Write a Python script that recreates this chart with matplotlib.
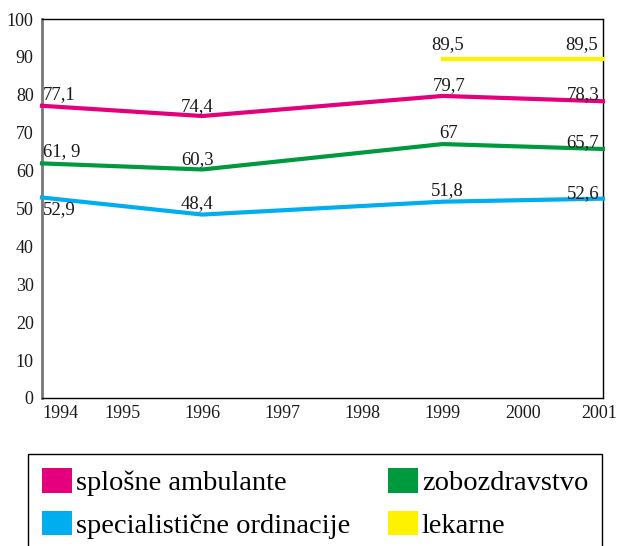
import matplotlib
matplotlib.use('Agg')
import matplotlib.pyplot as plt
from matplotlib.patches import Patch
from matplotlib.transforms import offset_copy

plt.rcParams.update({
    'font.family': ['Liberation Serif', 'DejaVu Serif'],
    'font.size': 12,
})

# ─── data ────────────────────────────────────────────────────────
years = [1994, 1996, 1999, 2001]
splosne = [77.1, 74.4, 79.7, 78.3]
zobozdr = [61.9, 60.3, 67.0, 65.7]
special = [52.9, 48.4, 51.8, 52.6]
lek_years = [1999, 2001]
lekarne = [89.5, 89.5]

splosne_lbl = ['77,1', '74,4', '79,7', '78,3']
zobozdr_lbl = ['61, 9', '60,3', '67', '65,7']
special_lbl = ['52,9', '48,4', '51,8', '52,6']
lekarne_lbl = ['89,5', '89,5']

names = ['splošne ambulante', 'specialistične ordinacije', 'zobozdravstvo', 'lekarne']
xticks = list(range(1994, 2002))
yticks = list(range(0, 101, 10))

PINK = '#E4007C'
GREEN = '#009A3E'
BLUE = '#00AEEF'
YELLOW = '#FFF200'

fig = plt.figure(figsize=(6.18, 5.46), dpi=100)
ax = fig.add_axes([42 / 618, 1 - 398 / 546, 561 / 618, 379 / 546])

# label placement: (dx, dy, ha, va) in pixels
pos_std = [(1, 3, 'left', 'bottom'), (-5, 1, 'center', 'bottom'),
           (6, 2, 'center', 'bottom'), (-4, -2, 'right', 'bottom')]
pos_blue = [(1, -4, 'left', 'top'), (-5, 2, 'center', 'bottom'),
            (5, 3, 'center', 'bottom'), (-4, -3, 'right', 'bottom')]
pos_yel = [(5, 6, 'center', 'bottom'), (-5, 6, 'right', 'bottom')]

series = [
    (years, splosne, splosne_lbl, PINK, pos_std),
    (years, zobozdr, zobozdr_lbl, GREEN, pos_std),
    (years, special, special_lbl, BLUE, pos_blue),
    (lek_years, lekarne, lekarne_lbl, YELLOW, pos_yel),
]
for xs, ys, lbls, col, pos in series:
    ax.plot(xs, ys, color=col, lw=3, solid_joinstyle='miter', clip_on=False, zorder=3)
    for x, y, t, (dx, dy, ha, va) in zip(xs, ys, lbls, pos):
        ax.annotate(t, (x, y), textcoords='offset pixels', xytext=(dx, dy),
                    ha=ha, va=va, fontsize=13.5, color='#1a1a1a', zorder=4)

ax.set_xlim(1994, 2001)
ax.set_ylim(0, 100)
ax.set_xticks(xticks)
ax.set_yticks(yticks)
ax.tick_params(length=0, labelsize=13, colors='#1a1a1a')
ax.tick_params(axis='x', pad=5)
ax.tick_params(axis='y', pad=6)
xl = ax.get_xticklabels()
xl[0].set_ha('left')
xl[-1].set_ha('right')
xl[-1].set_transform(offset_copy(xl[-1].get_transform(), fig=fig, x=14, units='dots'))
for s in ['top', 'right', 'bottom']:
    ax.spines[s].set_linewidth(1)
    ax.spines[s].set_color('black')
ax.spines['left'].set_color('#777777')
ax.spines['left'].set_linewidth(2)

handles = [Patch(facecolor=c, edgecolor='none') for c in [PINK, BLUE, GREEN, YELLOW]]
leg = fig.legend(handles, names, ncol=2, loc='upper left',
                 bbox_to_anchor=(28 / 618, 1 - 454 / 546), borderaxespad=0,
                 fontsize=20.5, handlelength=1.05, handleheight=0.95,
                 handletextpad=0.15, columnspacing=1.3, labelspacing=0.5,
                 borderpad=0.5, fancybox=False, framealpha=1)
leg.get_frame().set_edgecolor('black')
leg.get_frame().set_linewidth(1)

fig.savefig('out.png', dpi=100)
